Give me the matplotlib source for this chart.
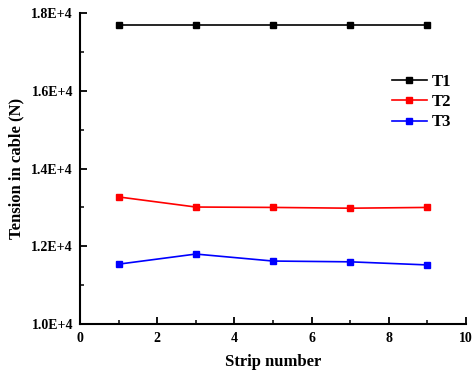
import matplotlib
matplotlib.use("Agg")
import matplotlib.pyplot as plt
from matplotlib.ticker import MultipleLocator, FuncFormatter

strips = [1, 3, 5, 7, 9]
t1 = [17700, 17700, 17700, 17700, 17700]
t2 = [13270, 13010, 13000, 12980, 13000]
t3 = [11540, 11800, 11620, 11600, 11520]
series_names = ["T1", "T2", "T3"]
colors = ["black", "red", "blue"]

plt.rcParams['font.family'] = ['Liberation Serif', 'DejaVu Serif']
plt.rcParams['font.weight'] = 'bold'

fig = plt.figure(figsize=(4.76, 3.75), dpi=100)
ax = fig.add_axes([0.168, 0.136, 0.811, 0.829])

for vals, name, c in zip([t1, t2, t3], series_names, colors):
    ax.plot(strips, vals, color=c, marker='s', markersize=5, linewidth=1.2, label=name)

ax.set_xlim(0, 10)
ax.set_ylim(10000, 18000)
ax.xaxis.set_major_locator(MultipleLocator(2))
ax.xaxis.set_minor_locator(MultipleLocator(1))
ax.yaxis.set_major_locator(MultipleLocator(2000))
ax.yaxis.set_minor_locator(MultipleLocator(1000))
ax.yaxis.set_major_formatter(FuncFormatter(lambda v, p: f"{v/1e4:.1f}E+4"))

for s in ['top', 'right']:
    ax.spines[s].set_visible(False)
for s in ['left', 'bottom']:
    ax.spines[s].set_linewidth(1.5)
ax.tick_params(which='major', direction='in', length=5, width=1.3, labelsize=10)
ax.tick_params(which='minor', direction='in', length=3, width=1.1)
ax.tick_params(axis='x', which='major', pad=6)
ax.tick_params(axis='y', which='major', pad=5)

ax.set_xlabel("Strip number", fontsize=12, fontweight='bold', labelpad=6)
ax.set_ylabel("Tension in cable (N)", fontsize=12, fontweight='bold', labelpad=5)

leg = ax.legend(loc='upper right', bbox_to_anchor=(1.0, 0.852), frameon=False,
                prop={'size': 12, 'weight': 'bold'}, handlelength=2.1,
                handletextpad=0.3, labelspacing=0.25)

fig.savefig("out.png", dpi=100)
